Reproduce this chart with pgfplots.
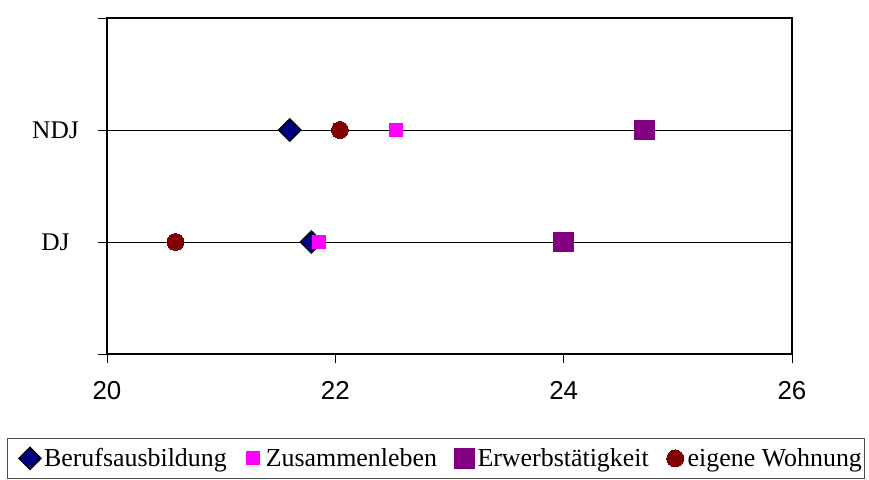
\documentclass[border=0pt]{standalone}
\usepackage{fontspec}
\setmainfont{Liberation Serif}
\newfontfamily\arialfont{Liberation Sans}
\usepackage{pgfplots}
\pgfplotsset{compat=1.18}
\definecolor{navyb}{RGB}{0,0,128}
\definecolor{magb}{RGB}{255,0,255}
\definecolor{purpb}{RGB}{128,0,128}
\definecolor{redb}{RGB}{128,0,0}
\pgfplotsset{
  firstimg/.style={legend image code/.code={\path (-22bp,0) (9bp,0); \draw[mark repeat=1,mark phase=1,##1] plot coordinates {(0bp,0bp)};}},
  otherimg/.style={legend image code/.code={\path (-8bp,0) (9bp,0); \draw[mark repeat=1,mark phase=1,##1] plot coordinates {(0bp,0bp)};}},
}
\begin{document}
\begin{tikzpicture}
\begin{axis}[
  scale only axis, width=685bp, height=336bp,
  xmin=20, xmax=26, ymin=0, ymax=3,
  xtick={20,22,24,26},
  ytick={0,1,2,3}, yticklabels={,DJ,NDJ,},
  /pgf/number format/assume math mode=true,
  ymajorgrids, major grid style={black, line width=0.8bp},
  axis line style={line width=1.2bp},
  tick style={black, line width=0.8bp},
  tick align=outside, xtick pos=lower, ytick pos=left,
  major tick length=9bp,
  xticklabel style={font=\arialfont\fontsize{26}{30}\selectfont, yshift=-15bp},
  yticklabel style={font=\fontsize{25.5}{30}\selectfont, text width=70bp, align=center, xshift=-4bp},
  legend columns=4,
  legend style={at={(-0.1460,-0.250)}, anchor=north west, draw=black!70, line width=1bp,
    font=\fontsize{26}{30}\selectfont, inner xsep=0bp, inner ysep=8bp,
    /tikz/every even column/.append style={column sep=15bp},
    nodes={inner xsep=3bp}},
  otherimg,
  clip=false,
]
\addplot[only marks, mark=square*, mark size=7.8bp, mark options={rotate=45, fill=navyb, draw=black, line width=1.5bp}, firstimg]
  coordinates {(21.60,2) (21.79,1)};
\addlegendentry{Berufsausbildung}
\addplot[only marks, mark=square*, mark size=6.5bp, mark options={fill=magb, draw=magb, line width=0bp}]
  coordinates {(22.53,2) (21.86,1)};
\addlegendentry{Zusammenleben}
\addplot[only marks, mark=square*, mark size=9.8bp, mark options={fill=purpb, draw=purpb, line width=0bp}]
  coordinates {(24.71,2) (24.00,1)};
\addlegendentry{Erwerbstätigkeit}
\addplot[only marks, mark=*, mark size=8.5bp, mark options={fill=redb, draw=redb, line width=0bp}]
  coordinates {(22.04,2) (20.60,1)};
\addlegendentry{eigene Wohnung}
\coordinate (A) at (rel axis cs:0,0);
\end{axis}
\pgfresetboundingbox
\path[use as bounding box] ([shift={(-107bp,-126bp)}]A) rectangle ([shift={(762bp,354bp)}]A);
\end{tikzpicture}
\end{document}
